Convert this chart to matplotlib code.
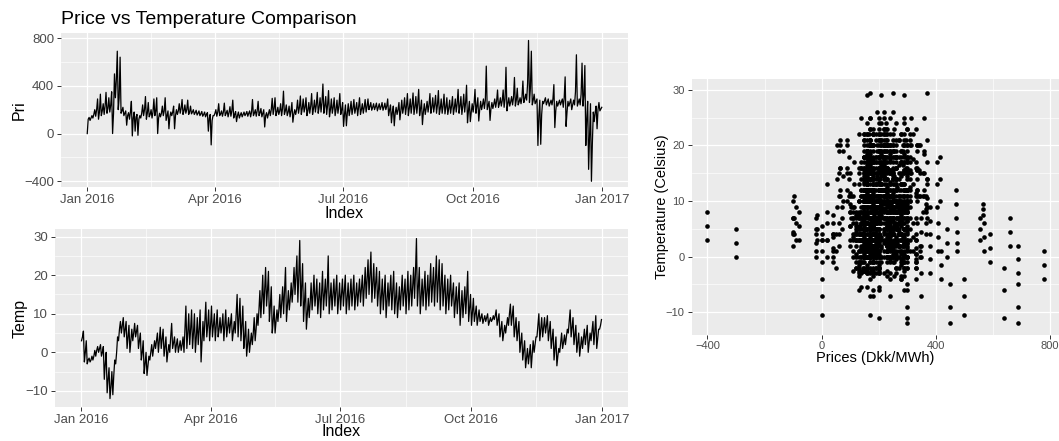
import numpy as np
import pandas as pd
import matplotlib
matplotlib.use("Agg")
import matplotlib.pyplot as plt
import matplotlib.dates as mdates
from matplotlib.ticker import FixedLocator, MultipleLocator

plt.rcParams['font.family'] = ['Liberation Sans', 'DejaVu Sans']

# two-day bins from 2016-01-01: low, typical and high value of each bin
price_lo = [
    0, 110, 130, 145, 120, 150, 160, 170, 180, 0,
    300, 200, 170, 150, 70, 120, -20, 20, -15, 130,
    150, 120, 140, 130, 150, 0, 140, 150, 110, 40,
    150, 40, 160, 170, 160, 170, 160, 165, 160, 155,
    150, 145, 140, 20, -95, 150, 145, 150, 145, 150,
    140, 145, 130, 100, 130, 140, 150, 145, 140, 150,
    145, 150, 140, 55, 130, 150, 160, 150, 160, 150,
    160, 150, 140, 95, 160, 170, 160, 180, 150, 170,
    160, 180, 170, 180, 170, 160, 140, 170, 150, 170,
    160, 60, 65, 150, 160, 170, 150, 160, 170, 180,
    200, 195, 200, 190, 200, 195, 200, 150, 90, 65,
    160, 115, 170, 160, 150, 170, 160, 170, 150, 75,
    160, 180, 170, 180, 170, 160, 170, 165, 160, 170,
    160, 180, 170, 160, 180, 90, 100, 180, 170, 105,
    200, 210, 200, 110, 210, 220, 220, 230, 220, 190,
    230, 240, 230, 240, 250, 260, 280, 260, 240, 250,
    -100, -90, 250, 240, 230, 240, 50, 230, 240, 220,
    60, 230, 200, 240, 230, 240, 230, -100, -300, -400,
    100, 40, 190,
]
price_mid = [
    120, 130, 160, 200, 180, 190, 230, 210, 240, 170,
    450, 300, 190, 170, 150, 180, 130, 140, 120, 170,
    200, 170, 160, 180, 190, 130, 170, 190, 150, 140,
    180, 150, 190, 210, 190, 200, 180, 180, 175, 170,
    165, 160, 160, 130, 110, 170, 180, 165, 180, 170,
    175, 190, 160, 150, 155, 160, 165, 170, 180, 170,
    190, 175, 170, 150, 165, 200, 210, 180, 190, 210,
    190, 180, 190, 160, 200, 220, 210, 220, 190, 230,
    210, 240, 220, 260, 230, 240, 200, 220, 200, 230,
    200, 160, 170, 200, 210, 210, 220, 200, 220, 225,
    225, 220, 225, 220, 225, 220, 230, 200, 180, 170,
    200, 190, 220, 230, 210, 240, 220, 250, 210, 180,
    210, 240, 220, 240, 240, 210, 230, 220, 210, 230,
    215, 250, 230, 230, 260, 190, 180, 250, 230, 200,
    240, 280, 235, 210, 245, 270, 250, 275, 290, 250,
    265, 300, 280, 265, 300, 290, 420, 380, 280, 270,
    150, 160, 275, 265, 255, 290, 190, 255, 265, 300,
    180, 260, 240, 350, 260, 330, 320, 120, -20, -80,
    180, 200, 205,
]
price_hi = [
    135, 150, 200, 290, 330, 250, 345, 300, 350, 500,
    690, 640, 220, 190, 175, 270, 180, 160, 150, 240,
    310, 260, 200, 290, 300, 170, 230, 300, 190, 180,
    230, 200, 250, 285, 240, 280, 230, 200, 195, 190,
    185, 180, 175, 160, 150, 200, 250, 190, 255, 195,
    225, 280, 185, 180, 175, 180, 185, 190, 285, 200,
    270, 210, 200, 175, 200, 295, 300, 220, 250, 355,
    240, 230, 260, 200, 280, 315, 290, 300, 260, 335,
    280, 345, 300, 415, 310, 360, 290, 300, 280, 335,
    260, 240, 250, 270, 285, 260, 300, 250, 285, 290,
    260, 250, 255, 250, 260, 255, 290, 240, 230, 220,
    260, 280, 300, 335, 290, 340, 310, 370, 280, 250,
    270, 335, 300, 320, 360, 290, 330, 300, 280, 310,
    290, 370, 310, 330, 405, 270, 250, 370, 300, 270,
    290, 565, 270, 260, 290, 365, 300, 365, 555, 300,
    310, 470, 380, 300, 440, 330, 780, 690, 330, 290,
    280, 270, 300, 290, 280, 410, 270, 280, 290, 475,
    270, 290, 280, 660, 290, 590, 570, 270, 250, 180,
    230, 260, 220,
]
temp_lo = [
    3, -2.5, -3, -2.5, -2, -1, 0, -1, -7, -10.5,
    -12, -11, -3, 3, 5, 4, 1, 0, 3, 4,
    1, -2, -5.5, -6, -2, -1, 1, 0, 1, -1,
    -2.5, 0, 1, 0, 0, 0.5, 0, 1, 2, 1,
    0, 2, -2.5, 3, 4, 3, 4, 3, 4, 5,
    3, 4, 5, 3, 5, 4, 3, 1, -1, 0,
    2, 3, 7, 9, 10, 12, 8, 5, 5, 8,
    9, 10, 8, 11, 13, 15, 13, 12, 8, 6,
    9, 11, 12, 10, 9, 11, 12, 10, 11, 12,
    10, 11, 12, 10, 11, 12, 11, 12, 13, 12,
    14, 15, 13, 14, 12, 10, 11, 9, 12, 11,
    10, 9, 11, 12, 10, 11, 12, 14, 12, 10,
    12, 11, 12, 13, 12, 13, 11, 12, 10, 11,
    12, 9, 10, 7, 9, 10, 8, 7, 8, 7,
    8, 7.5, 8, 7, 8, 8.5, 7, 4, 3, 5,
    7, 7, 4, 3, 0, -2, -4, -3, -4, 0,
    4, 3, 4, 5, 3, 1, -2, -3.5, 0, 1,
    2, 5, 4, 2, 0, -1, 1, 2, 0, 3,
    2, 1, 6,
]
temp_mid = [
    4, 0, -2, -2, -1, 0.5, 1, 0, -3, -7,
    -9, -6, 0, 6, 7, 6, 4, 3, 5, 5.5,
    3, 0, -3, -3.5, 0, 1, 3, 3, 3.5, 1.5,
    0, 4, 2.5, 2, 1.5, 2, 6, 5, 6, 5,
    4, 6, 3, 8, 7, 7, 7, 7, 6, 7,
    7, 6.5, 7.5, 5.5, 10, 9, 7, 4, 2, 2.5,
    5, 6, 11, 14, 16, 16, 12, 8, 8, 11,
    13, 16, 12, 14, 17, 20, 20, 17, 13, 10,
    13, 15, 15, 14, 15, 15, 17, 14, 15, 16,
    14, 15, 16, 14, 15, 16, 14.5, 15.5, 16.5, 17,
    19, 20, 18, 18, 16, 14.5, 15.5, 13.5, 16, 16,
    14, 13, 15.5, 15.5, 15.5, 15.5, 17, 21, 17, 14.5,
    16.5, 15.5, 17.5, 17.5, 18.5, 18.5, 17, 16, 14.5, 15.5,
    15, 13, 14, 11.5, 13, 15, 11.5, 10.5, 10, 9,
    9, 8.5, 9, 8, 8.5, 9.5, 8.5, 6, 5, 7,
    10, 9.5, 6.5, 5.5, 2.5, 0.5, -1.5, -0.5, -0.5, 2,
    7, 6, 6.5, 7, 5.5, 3.5, 1, -1, 2.5, 2.5,
    4, 8, 6.5, 4.5, 2.5, 1.5, 3.5, 4.5, 2.5, 5.5,
    5.5, 3.5, 7,
]
temp_hi = [
    5.5, 3, -1.5, -1, 0.5, 1.5, 2, 1.5, 0, -4,
    -5, -2, 4, 8, 9, 8, 7, 6, 7.5, 7,
    5, 3, 0, -1, 2, 3, 5, 6.5, 6, 4,
    2, 7.5, 4, 3.5, 3, 4, 12, 10, 11, 10,
    9, 11, 8, 13, 11, 12, 10, 11, 9, 10,
    11, 9, 10, 8, 15, 14, 12, 8, 6, 5,
    9, 10, 16, 20, 22, 21, 17, 12, 11, 15,
    17, 22, 16, 18, 22, 25, 29, 23, 18, 14,
    18, 20, 19, 18, 21, 19, 25, 18, 19, 20,
    18, 19, 20, 18, 19, 20, 18, 19, 20, 22,
    24, 26, 23, 22, 21, 19, 20, 18, 20, 21,
    18, 17, 20, 19, 21, 20, 22, 29.5, 22, 19,
    21, 20, 23, 22, 25, 24, 23, 20, 19, 20,
    18, 17, 18, 16, 17, 21, 15, 14, 12, 11,
    10, 9.5, 10, 9, 9.5, 11, 10, 8, 7, 9,
    12.5, 12, 9, 8, 5, 3, 1, 2, 3, 4,
    10, 9, 9, 9.5, 8, 6, 4, 1, 5, 4.5,
    6, 11, 9, 7, 5, 4, 6, 7, 5, 8,
    9.5, 6, 8.5,
]

major_dates = ["2016-01-01", "2016-04-01", "2016-07-01", "2016-10-01", "2017-01-01"]
major_labels = ["Jan 2016", "Apr 2016", "Jul 2016", "Oct 2016", "Jan 2017"]

start = mdates.date2num(pd.Timestamp("2016-01-01"))
n = len(price_lo)
b = np.arange(n)
days = np.column_stack([2 * b + 1 / 3, 2 * b + 1, 2 * b + 5 / 3]).ravel()
x = start + days
price = np.column_stack([price_lo, price_mid, price_hi]).ravel()
temp = np.column_stack([temp_lo, temp_mid, temp_hi]).ravel()

major = [mdates.date2num(pd.Timestamp(d)) for d in major_dates]
minor = [(a + c) / 2 for a, c in zip(major[:-1], major[1:])]
xlim = (start - 18.3, start + 384.3)

fig = plt.figure(figsize=(10.59, 4.41), dpi=100)
W, H = 1059, 441


def add_ax(left, top, right, bottom):
    return fig.add_axes([left / W, 1 - bottom / H, (right - left) / W, (bottom - top) / H])


def style(ax, tsize):
    ax.set_facecolor('#EBEBEB')
    for s in ax.spines.values():
        s.set_visible(False)
    ax.grid(which='major', color='white', lw=0.9)
    ax.grid(which='minor', color='white', lw=0.45)
    ax.set_axisbelow(True)
    ax.tick_params(which='major', length=3, width=0.7, color='#333333',
                   labelsize=tsize, labelcolor='#4D4D4D', pad=2)
    ax.tick_params(which='minor', length=0)


# price over time
ax1 = add_ax(61, 32.7, 628, 187.5)
style(ax1, 9.5)
ax1.plot(x, price, color='black', lw=0.9)
ax1.set_xlim(xlim)
ax1.set_ylim(-452, 845)
ax1.xaxis.set_major_locator(FixedLocator(major))
ax1.xaxis.set_minor_locator(FixedLocator(minor))
ax1.set_xticklabels(major_labels)
ax1.yaxis.set_major_locator(FixedLocator([-400, 0, 400, 800]))
ax1.yaxis.set_minor_locator(FixedLocator([-200, 200, 600]))
ax1.set_xlabel("Index", fontsize=11.5)
ax1.xaxis.set_label_coords(0.5, -0.12)
ax1.set_ylabel("Pri", fontsize=11.5)
ax1.yaxis.set_label_coords(-0.06, 0.5)

# temperature over time
ax2 = add_ax(55, 229.3, 628, 406.7)
style(ax2, 9.5)
ax2.plot(x, temp, color='black', lw=0.9)
ax2.set_xlim(xlim)
ax2.set_ylim(-14.1, 31.9)
ax2.xaxis.set_major_locator(FixedLocator(major))
ax2.xaxis.set_minor_locator(FixedLocator(minor))
ax2.set_xticklabels(major_labels)
ax2.yaxis.set_major_locator(MultipleLocator(10))
ax2.yaxis.set_minor_locator(FixedLocator([-5, 5, 15, 25]))
ax2.set_xlabel("Index", fontsize=11.5)
ax2.xaxis.set_label_coords(0.5, -0.0975)
ax2.set_ylabel("Temp", fontsize=11.5)
ax2.yaxis.set_label_coords(-0.047, 0.5)

fig.text(61 / W, 1 - 20 / H, "Price vs Temperature Comparison", fontsize=14,
         ha='left', va='center')

# scatter: every price reading of a bin against every temperature reading of that bin
sp, st = [], []
for i in range(n):
    for p in (price_lo[i], price_mid[i], price_hi[i]):
        for t in (temp_lo[i], temp_mid[i], temp_hi[i]):
            sp.append(p)
            st.append(t)

ax3 = add_ax(691.5, 79.3, 1059, 334.5)
style(ax3, 8)
ax3.scatter(sp, st, s=11, color='black', linewidths=0)
ax3.set_xlim(-456, 832.6)
ax3.set_ylim(-14.0, 31.9)
ax3.xaxis.set_major_locator(FixedLocator([-400, 0, 400, 800]))
ax3.xaxis.set_minor_locator(FixedLocator([-200, 200, 600]))
ax3.yaxis.set_major_locator(MultipleLocator(10))
ax3.yaxis.set_minor_locator(FixedLocator([-5, 5, 15, 25]))
ax3.set_xlabel("Prices (Dkk/MWh)", fontsize=10.5)
ax3.xaxis.set_label_coords(0.5, -0.065)
ax3.set_ylabel("Temperature (Celsius)", fontsize=10.5)
ax3.yaxis.set_label_coords(-0.061, 0.5)

fig.savefig("out.png", dpi=100)
